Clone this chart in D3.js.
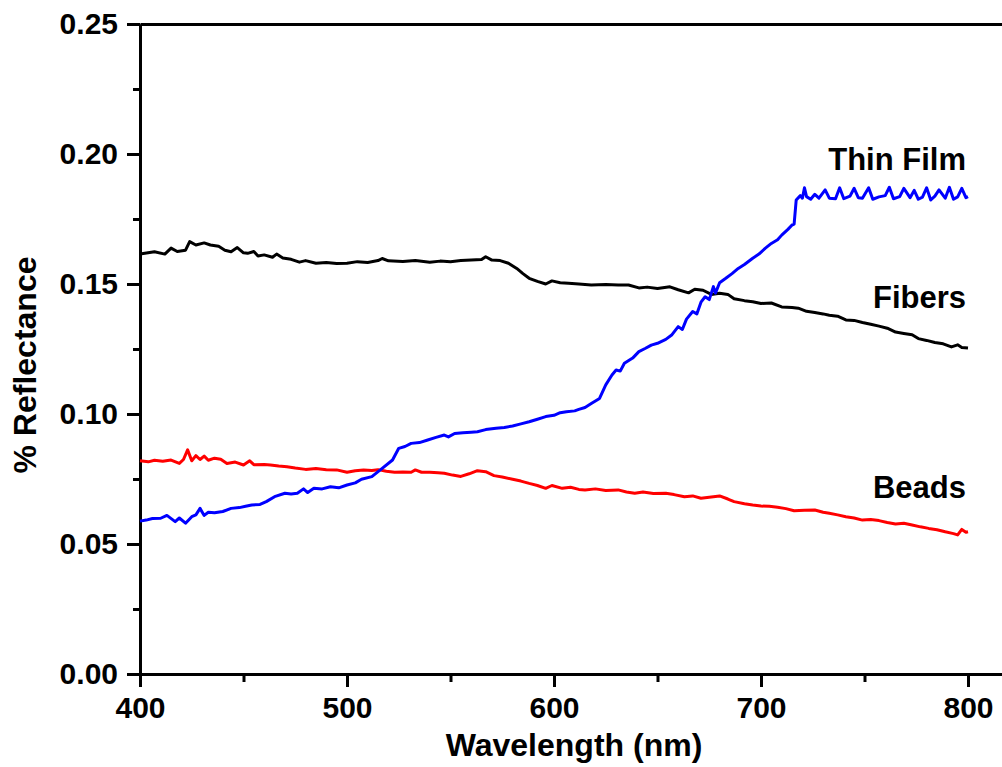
<!DOCTYPE html>
<html>
<head>
<meta charset="utf-8">
<script src="https://cdn.jsdelivr.net/npm/d3@7"></script>
<style>
  body { margin: 0; background: #fff; }
  svg { display: block; font-family: "Liberation Sans", Arial, sans-serif; font-weight: bold; }
  .axis path, .axis line { stroke: #000; stroke-width: 3; }
  .axis text { font-size: 30px; font-weight: bold; fill: #000; }
</style>
</head>
<body>
<div id="chart"></div>
<script>

// Reflectance spectra, values: [wavelength nm, reflectance]

const fibers = [
  [400,0.1615],[407,0.1624],[412,0.1615],[415,0.1638],[418,0.1625],[422,0.1630],[424,0.1663],[427,0.1650],
  [431,0.1658],[434,0.1650],[438,0.1645],[441,0.1630],[444,0.1624],[447,0.1640],[450,0.1620],[452,0.1618],
  [455,0.1625],[457,0.1608],[460,0.1612],[464,0.1603],[466,0.1615],[469,0.1600],[473,0.1595],[477,0.1584],
  [480,0.1590],[485,0.1580],[490,0.1583],[495,0.1579],[500,0.1580],[505,0.1586],[510,0.1583],[515,0.1590],
  [517,0.1598],[520,0.1589],[527,0.1587],[533,0.1590],[540,0.1584],[545,0.1588],[550,0.1586],[555,0.1590],
  [560,0.1592],[565,0.1594],[567,0.1605],[570,0.1592],[574,0.1590],[578,0.1580],[582,0.1560],[585,0.1540],
  [588,0.1522],[592,0.1510],[596,0.1500],[599,0.1512],[603,0.1505],[607,0.1503],[612,0.1500],[618,0.1496],
  [625,0.1498],[631,0.1496],[636,0.1496],[641,0.1485],[645,0.1488],[650,0.1483],[656,0.1489],[660,0.1478],
  [665,0.1466],[668,0.1480],[672,0.1476],[676,0.1460],[680,0.1464],[684,0.1460],[687,0.1443],[692,0.1436],
  [696,0.1432],[700,0.1425],[705,0.1427],[710,0.1412],[715,0.1410],[718,0.1407],[722,0.1395],[726,0.1390],
  [730,0.1385],[733,0.1380],[737,0.1376],[741,0.1362],[745,0.1360],[749,0.1352],[753,0.1345],[757,0.1338],
  [761,0.1330],[765,0.1315],[769,0.1310],[773,0.1305],[776,0.1290],[780,0.1283],[784,0.1275],[788,0.1270],
  [792,0.1258],[795,0.1266],[797,0.1256],[800,0.1254]
];

const beads = [
  [400,0.0820],[404,0.0816],[407,0.0822],[411,0.0818],[415,0.0823],[419,0.0810],[421,0.0825],[423,0.0862],
  [425,0.0820],[427,0.0840],[429,0.0825],[431,0.0838],[433,0.0822],[436,0.0830],[439,0.0826],[442,0.0810],
  [446,0.0815],[450,0.0804],[453,0.0820],[455,0.0805],[460,0.0806],[463,0.0804],[467,0.0800],[471,0.0797],
  [475,0.0792],[480,0.0787],[485,0.0790],[490,0.0786],[495,0.0785],[500,0.0776],[504,0.0782],[508,0.0785],
  [512,0.0783],[515,0.0786],[519,0.0780],[523,0.0776],[527,0.0777],[531,0.0776],[533,0.0785],[536,0.0776],
  [540,0.0776],[544,0.0774],[547,0.0772],[551,0.0765],[555,0.0760],[559,0.0770],[563,0.0782],[567,0.0778],
  [571,0.0763],[575,0.0758],[580,0.0749],[584,0.0742],[588,0.0733],[592,0.0725],[596,0.0714],[599,0.0725],
  [604,0.0714],[608,0.0718],[612,0.0710],[615,0.0708],[620,0.0712],[625,0.0706],[631,0.0708],[635,0.0700],
  [639,0.0695],[643,0.0700],[648,0.0694],[654,0.0695],[658,0.0690],[663,0.0682],[667,0.0685],[671,0.0676],
  [675,0.0680],[680,0.0685],[684,0.0673],[687,0.0663],[692,0.0655],[696,0.0650],[700,0.0646],[704,0.0645],
  [708,0.0641],[712,0.0636],[716,0.0628],[721,0.0630],[726,0.0631],[730,0.0622],[733,0.0618],[737,0.0612],
  [741,0.0605],[745,0.0600],[749,0.0592],[753,0.0594],[757,0.0590],[761,0.0583],[765,0.0577],[769,0.0580],
  [773,0.0573],[777,0.0566],[781,0.0560],[785,0.0555],[789,0.0547],[793,0.0540],[795,0.0535],[797,0.0556],
  [799,0.0545],[800,0.0547]
];

const thinFilm = [
  [400,0.0588],[403,0.0592],[406,0.0598],[410,0.0599],[413,0.0610],[417,0.0586],[419,0.0600],[422,0.0580],
  [425,0.0605],[427,0.0612],[429,0.0637],[431,0.0610],[433,0.0622],[436,0.0620],[440,0.0625],[444,0.0637],
  [448,0.0640],[451,0.0645],[454,0.0650],[458,0.0652],[461,0.0663],[465,0.0682],[470,0.0695],[473,0.0692],
  [476,0.0695],[479,0.0712],[481,0.0698],[484,0.0714],[488,0.0712],[492,0.0720],[496,0.0716],[500,0.0727],
  [504,0.0735],[507,0.0749],[512,0.0759],[517,0.0791],[522,0.0823],[525,0.0868],[528,0.0875],[531,0.0887],
  [535,0.0890],[539,0.0900],[543,0.0910],[547,0.0919],[549,0.0912],[552,0.0925],[556,0.0928],[560,0.0930],
  [563,0.0932],[567,0.0940],[572,0.0945],[576,0.0948],[580,0.0954],[584,0.0962],[588,0.0970],[592,0.0980],
  [596,0.0990],[600,0.0995],[603,0.1005],[606,0.1009],[610,0.1012],[612,0.1018],[615,0.1025],[618,0.1040],
  [622,0.1060],[625,0.1112],[628,0.1150],[630,0.1169],[632,0.1165],[634,0.1195],[638,0.1215],[641,0.1240],
  [644,0.1252],[647,0.1265],[650,0.1272],[654,0.1287],[657,0.1305],[660,0.1336],[662,0.1325],[664,0.1365],
  [667,0.1394],[669,0.1385],[671,0.1430],[673,0.1451],[675,0.1440],[677,0.1490],[678,0.1465],[680,0.1505],
  [683,0.1522],[686,0.1540],[689,0.1560],[692,0.1575],[696,0.1599],[699,0.1615],[702,0.1637],[705,0.1656],
  [708,0.1670],[710,0.1688],[713,0.1710],[715,0.1727],[716,0.1730],[717,0.1823],[719,0.1840],[720,0.1830],
  [721,0.1870],[722,0.1836],[724,0.1826],[726,0.1845],[728,0.1830],[731,0.1862],[733,0.1830],[736,0.1828],
  [738,0.1870],[740,0.1828],[743,0.1838],[745,0.1868],[747,0.1832],[749,0.1830],[752,0.1870],[754,0.1826],
  [757,0.1835],[760,0.1840],[762,0.1872],[764,0.1828],[767,0.1836],[769,0.1868],[772,0.1832],[774,0.1860],
  [776,0.1826],[778,0.1834],[780,0.1870],[782,0.1823],[784,0.1838],[786,0.1862],[789,0.1830],[791,0.1872],
  [793,0.1826],[795,0.1835],[797,0.1868],[799,0.1832],[800,0.1836]
];

// tick values
const xMajor = [400, 500, 600, 700, 800];
const xMinor = [450, 550, 650, 750];
const yMajor = [0, 0.05, 0.10, 0.15, 0.20, 0.25];
const yMinor = [0.025, 0.075, 0.125, 0.175, 0.225];

// curve labels sit at the right end, [text, wavelength, reflectance of baseline]
const labels = [
  ["Thin Film", 800, 0.1938],
  ["Fibers", 800, 0.1408],
  ["Beads", 800, 0.0677]
];

const series = [
  {data: beads, color: "#ff0000"},
  {data: fibers, color: "#000000"},
  {data: thinFilm, color: "#0000ff"}
];

// Set dimensions and margins
const width = 1002;
const height = 767;
const margin = {left: 140, right: 0, bottom: 93, top: 24};

const svg = d3.select("#chart")
  .append("svg")
  .attr("width", width)
  .attr("height", height);

// x runs a bit past 800 so the frame leaves the picture on the right
const xScale = d3.scaleLinear()
  .domain([400, 820])
  .range([margin.left, margin.left + 420 * 2.07]);

const yScale = d3.scaleLinear()
  .domain([0, 0.25])
  .range([height - margin.bottom, margin.top]);

/*
  Axes
*/

// minor ticks first, no labels
svg.append("g")
  .attr("class", "axis")
  .attr("transform", `translate(0,${yScale(0)})`)
  .call(d3.axisBottom(xScale).tickValues(xMinor).tickSize(8).tickSizeOuter(0).tickFormat(""));

svg.append("g")
  .attr("class", "axis")
  .attr("transform", `translate(${xScale(400)},0)`)
  .call(d3.axisLeft(yScale).tickValues(yMinor).tickSize(7).tickSizeOuter(0).tickFormat(""));

// top edge of the frame
svg.append("g")
  .attr("class", "axis")
  .attr("transform", `translate(0,${yScale(0.25)})`)
  .call(d3.axisTop(xScale).tickValues([]).tickSizeOuter(0));

// major ticks with labels
svg.append("g")
  .attr("class", "axis")
  .attr("transform", `translate(0,${yScale(0)})`)
  .call(d3.axisBottom(xScale).tickValues(xMajor).tickSize(13).tickSizeOuter(0).tickPadding(10));

svg.append("g")
  .attr("class", "axis")
  .attr("transform", `translate(${xScale(400)},0)`)
  .call(d3.axisLeft(yScale).tickValues(yMajor).tickSize(13).tickSizeOuter(0).tickPadding(9)
    .tickFormat(d3.format(".2f")));

// axis titles
svg.append("text")
  .attr("x", 574)
  .attr("y", 756)
  .attr("text-anchor", "middle")
  .attr("font-size", "32px")
  .text("Wavelength (nm)");

svg.append("text")
  .attr("transform", "translate(36,365) rotate(-90)")
  .attr("text-anchor", "middle")
  .attr("font-size", "32px")
  .text("% Reflectance");

/*
  Lines
*/

const line = d3.line()
  .x(d => xScale(d[0]))
  .y(d => yScale(d[1]));

svg.selectAll(".curve")
  .data(series)
  .enter()
  .append("path")
    .attr("class", "curve")
    .attr("d", d => line(d.data))
    .attr("fill", "none")
    .attr("stroke", d => d.color)
    .attr("stroke-width", 3)
    .attr("stroke-linejoin", "round");

svg.selectAll(".label")
  .data(labels)
  .enter()
  .append("text")
    .attr("class", "label")
    .attr("x", d => xScale(d[1]) - 2)
    .attr("y", d => yScale(d[2]))
    .attr("text-anchor", "end")
    .attr("font-size", "31px")
    .text(d => d[0]);

</script>
</body>
</html>
